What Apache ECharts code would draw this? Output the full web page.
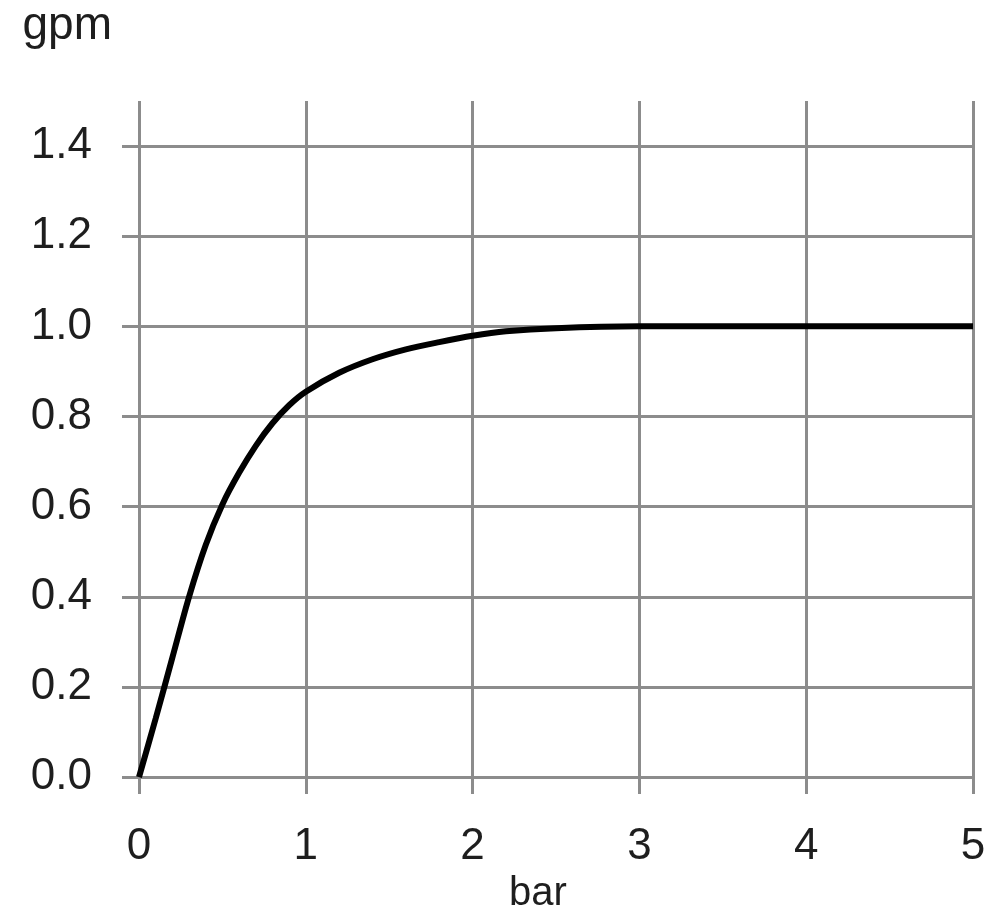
<!DOCTYPE html>
<html>
<head>
<meta charset="utf-8">
<script src="https://cdn.jsdelivr.net/npm/echarts@6/dist/echarts.min.js"></script>
<style>
  html, body { margin: 0; padding: 0; background: #fff; }
  #chart { width: 1000px; height: 919px; }
</style>
</head>
<body>
<div id="chart"></div>
<script>
// flow (gpm) vs pressure (bar)
const pressure = [0, 0.1, 0.2, 0.3, 0.4, 0.5, 0.6, 0.7, 0.8, 0.9, 1.0, 1.2, 1.4, 1.6, 1.8, 2.0, 2.2, 2.5, 3.0, 4.0, 5.0];
const flow = [0, 0.13, 0.265, 0.4, 0.515, 0.605, 0.675, 0.735, 0.785, 0.825, 0.855, 0.897, 0.927, 0.949, 0.965, 0.979, 0.989, 0.996, 1.0, 1.0, 1.0];
const yTicks = [0, 0.2, 0.4, 0.6, 0.8, 1.0, 1.2, 1.4];
const xTicks = [0, 1, 2, 3, 4, 5];

const gridColor = "#8c8c8c";
const textStyle = { color: "#1e1e1e", fontFamily: "Liberation Sans", fontSize: 44 };

const chart = echarts.init(document.querySelector("#chart"), null, { renderer: "canvas" });
chart.setOption({
  animation: false,
  backgroundColor: "#fff",
  grid: { left: 139, right: 27, top: 101, bottom: 138 },
  xAxis: {
    type: "value",
    min: 0,
    max: 5,
    interval: 1,
    name: "bar",
    nameLocation: "middle",
    nameGap: 79,
    nameTextStyle: { ...textStyle, fontSize: 40, padding: [0, 36, 0, 0] },
    axisLine: { show: false },
    axisTick: { show: true, length: 17, customValues: xTicks, lineStyle: { color: gridColor, width: 3 } },
    axisLabel: { ...textStyle, margin: 48, customValues: xTicks, formatter: (v) => String(v) },
    splitLine: { show: true, lineStyle: { color: gridColor, width: 3 } },
  },
  yAxis: {
    type: "value",
    min: 0,
    max: 1.5,
    interval: 0.2,
    name: "gpm",
    nameLocation: "end",
    nameGap: 52,
    nameTextStyle: { ...textStyle, fontSize: 46, align: "right", padding: [0, 27, 0, 0] },
    axisLine: { show: false },
    axisTick: { show: true, length: 17, customValues: yTicks, lineStyle: { color: gridColor, width: 3 } },
    axisLabel: { ...textStyle, margin: 47, customValues: yTicks, formatter: (v) => v.toFixed(1) },
    splitLine: { show: true, lineStyle: { color: gridColor, width: 3 } },
  },
  series: [
    {
      type: "line",
      data: pressure.map((p, i) => [p, flow[i]]),
      smooth: 0.3,
      showSymbol: false,
      lineStyle: { color: "#000", width: 6 },
    },
  ],
});
</script>
</body>
</html>
